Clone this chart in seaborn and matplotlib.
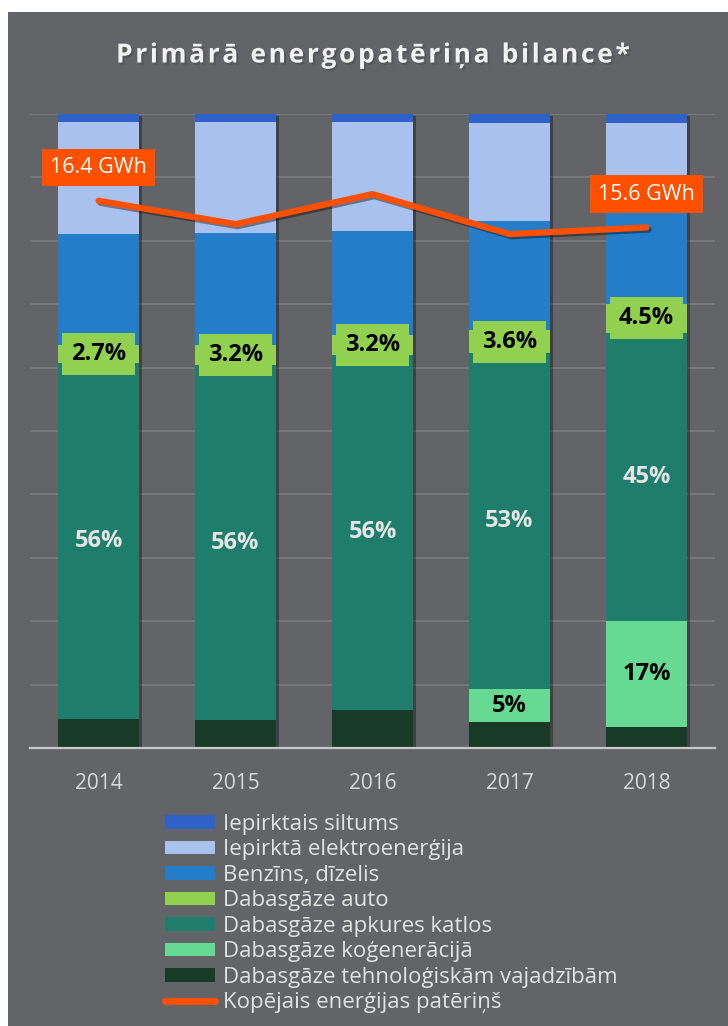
import numpy as np
import pandas as pd
import matplotlib
matplotlib.use("Agg")
import matplotlib.pyplot as plt
import matplotlib.patheffects as pe
from matplotlib.lines import Line2D
from matplotlib.patches import Patch, Rectangle
import seaborn as sns

sns.set_theme(style="white")
plt.rcParams["font.family"] = ["Open Sans", "DejaVu Sans"]

## DATA (shares in %, bottom -> top of the stack)
years = ["2014", "2015", "2016", "2017", "2018"]
tehnologiskam = [4.6, 4.4, 6.0, 4.1, 3.3]
kogeneracija = [0.0, 0.0, 0.0, 5.2, 16.8]
apkures_katlos = [56.2, 56.0, 56.0, 53.0, 45.4]
gaze_auto = [2.7, 3.2, 3.2, 3.6, 4.5]
benzins_dizelis = [17.5, 17.7, 16.4, 17.2, 20.2]
elektroenergija = [17.7, 17.5, 17.2, 15.5, 8.4]
siltums = [1.3, 1.2, 1.2, 1.4, 1.4]
kopejais_gwh = [16.4, 15.7, 16.6, 15.4, 15.6]
gwh_labels = {0: "16.4 GWh", 4: "15.6 GWh"}
title = "Primārā energopatēriņa bilance*"

BG = "#636468"
layers = [
    ("Dabasgāze tehnoloģiskām vajadzībām", tehnologiskam, "#173B26"),
    ("Dabasgāze koģenerācijā", kogeneracija, "#66D993"),
    ("Dabasgāze apkures katlos", apkures_katlos, "#1F7E6B"),
    ("Dabasgāze auto", gaze_auto, "#92D050"),
    ("Benzīns, dīzelis", benzins_dizelis, "#247DC8"),
    ("Iepirktā elektroenerģija", elektroenergija, "#A9C1EE"),
    ("Iepirktais siltums", siltums, "#2F62C6"),
]

df = pd.DataFrame({name: vals for name, vals, _ in layers}, index=years)
cum = df.cumsum(axis=1)

fig = plt.figure(figsize=(7.28, 10.26), dpi=100, facecolor="white")
fig.patches.append(Rectangle((8 / 728, 0), 1, 1 - 12 / 1026, transform=fig.transFigure,
                             facecolor=BG, edgecolor="none", zorder=-10))
ax = fig.add_axes([30 / 728, 1 - 748 / 1026, 685 / 728, 634 / 1026])
ax.set_facecolor(BG)

# stacked bars: draw cumulative totals from the top layer down
for i in range(len(layers) - 1, -1, -1):
    name, _, color = layers[i]
    sns.barplot(x=years, y=cum[name].values, color=color, saturation=1, width=0.59,
                edgecolor="none", linewidth=0, ax=ax, zorder=2)
for p in ax.patches[:len(years)]:
    p.set_path_effects([pe.SimplePatchShadow(offset=(2.5, -1.5), alpha=0.35, shadow_rgbFace="black"),
                        pe.Normal()])

ax.set_ylim(0, 100)
ax.set_xlim(-0.5, len(years) - 0.5)
ax.set_yticks(np.arange(0, 101, 10))
ax.set_yticklabels([])
ax.grid(axis="y", color="#7c7d81", linewidth=1.2, zorder=0)
ax.set_axisbelow(True)
for s in ["top", "left", "right"]:
    ax.spines[s].set_visible(False)
ax.spines["bottom"].set_color("#c8c8c8")
ax.spines["bottom"].set_linewidth(1.6)
ax.tick_params(axis="y", length=0)
ax.set_xticks(np.arange(-0.5, len(years)), minor=True)
ax.tick_params(axis="x", which="minor", direction="out", length=6, width=1.6, color="#c8c8c8")
ax.tick_params(axis="x", which="major", length=0, pad=18, labelsize=15, labelcolor="#d9d9d9")
ax.set_xlabel("")
ax.set_ylabel("")

# segment labels
xs = np.arange(len(years))
bottom_auto = cum["Dabasgāze apkures katlos"].values
for x, b, v in zip(xs, bottom_auto, gaze_auto):
    ax.text(x, b + v / 2, f"{v:.1f}%", ha="center", va="center", fontsize=17, fontweight="bold",
            color="black", zorder=6,
            bbox=dict(boxstyle="square,pad=0.38", facecolor="#92D050", edgecolor="none"))
bottom_apk = cum["Dabasgāze koģenerācijā"].values
for x, b, v in zip(xs, bottom_apk, apkures_katlos):
    ax.text(x, b + v / 2, f"{v:.0f}%", ha="center", va="center", fontsize=17, fontweight="bold",
            color="#e6e6e6", zorder=6)
bottom_kog = cum["Dabasgāze tehnoloģiskām vajadzībām"].values
for x, b, v in zip(xs, bottom_kog, kogeneracija):
    if v > 0:
        ax.text(x, b + v / 2, f"{v:.0f}%", ha="center", va="center", fontsize=17, fontweight="bold",
                color="black", zorder=6)

# total consumption line on hidden secondary axis
ax2 = ax.twinx()
sns.lineplot(x=xs, y=kopejais_gwh, color="#FF5000", linewidth=4.5, ax=ax2, zorder=5,
             solid_capstyle="round", solid_joinstyle="round")
ax2.lines[0].set_path_effects([pe.SimpleLineShadow(offset=(1.5, -1.5), alpha=0.4, shadow_color="black"),
                               pe.Normal()])
ax2.set_ylim(0, 19)
ax2.axis("off")
for i, txt in gwh_labels.items():
    ax2.annotate(txt, (xs[i], kopejais_gwh[i]), xytext=(0, 24), textcoords="offset points",
                 ha="center", va="center", fontsize=15.5, color="white",
                 bbox=dict(boxstyle="square,pad=0.38", facecolor="#FF5000", edgecolor="none"))

# letter-spaced title (hair spaces between characters)
fig.text(0.511, 1 - 55 / 1026, "\u200a".join(title), ha="center", va="center",
         fontsize=19, fontweight="bold", color="#f2f2f2",
         path_effects=[pe.withSimplePatchShadow(offset=(1.5, -1.5), alpha=0.5)])

# legend (top of stack first)
handles = [Patch(facecolor=c, edgecolor="none", label=n) for n, _, c in layers[::-1]]
handles.append(Line2D([0], [0], color="#FF5000", linewidth=5, solid_capstyle="round",
                      label="Kopējais enerģijas patēriņš"))
fig.legend(handles=handles, loc="upper left", bbox_to_anchor=(165 / 728, 1 - 814 / 1026),
           frameon=False, fontsize=16, labelcolor="#e2e2e2", handlelength=2.25, handleheight=0.55,
           handletextpad=0.36, labelspacing=0.2, borderpad=0, borderaxespad=0)

fig.savefig("out.png", dpi=100, facecolor=fig.get_facecolor())
